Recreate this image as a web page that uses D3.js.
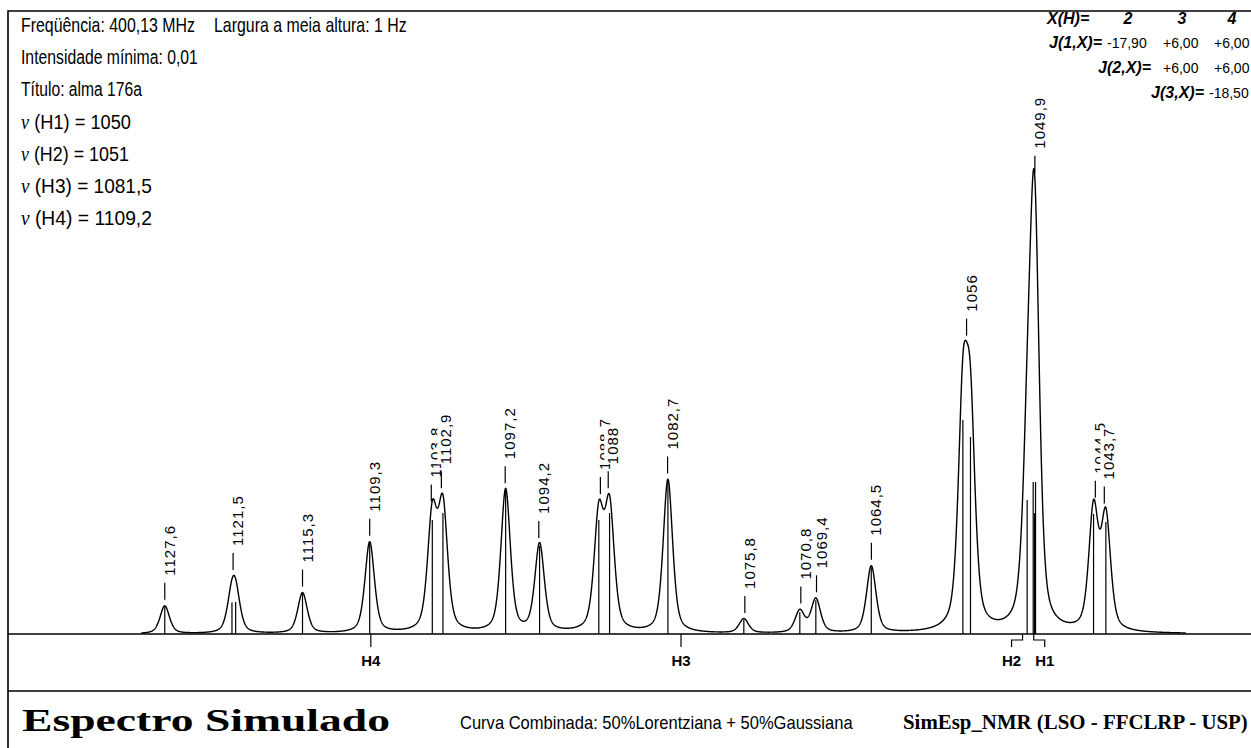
<!DOCTYPE html>
<html>
<head>
<meta charset="utf-8">
<script src="https://cdn.jsdelivr.net/npm/d3@7"></script>
<style>
  body { margin: 0; background: #fff; }
  svg { display: block; }
</style>
</head>
<body>
<svg id="chart" width="1251" height="748" font-family="Liberation Sans, Arial, sans-serif"></svg>
<script>
// ---- data ----
const infoLines = ["Freqüência: 400,13 MHz", "Intensidade mínima: 0,01", "Título: alma 176a"];
const infoExtra = "Largura a meia altura: 1 Hz";
const spinNames = ["H1", "H2", "H3", "H4"];
const spinShifts = [1050, 1051, 1081.5, 1109.2];
const spinShiftText = ["1050", "1051", "1081,5", "1109,2"];
const jCols = ["2", "3", "4"];
const jRowNames = ["J(1,X)=", "J(2,X)=", "J(3,X)="];
const jValues = [["-17,90", "+6,00", "+6,00"], ["+6,00", "+6,00"], ["-18,50"]];

// transitions (Hz) and their intensities
const stickFreq = [1127.60, 1121.60, 1121.27, 1115.30, 1109.30, 1103.71, 1102.76, 1097.16,
                   1094.13, 1088.84, 1087.88, 1082.67, 1075.89, 1070.89, 1069.46, 1064.51,
                   1056.33, 1055.65, 1050.59, 1050.05, 1049.93, 1049.84, 1044.66, 1043.56];
const stickInt  = [27.8, 31.5, 32, 40.5, 91, 114, 121, 143,
                   88, 114, 121, 153.5, 14.2, 21.8, 33.8, 66.8,
                   214, 197, 134, 152, 121, 152, 120, 112];

// labelled maxima
const peakFreq = [1127.6, 1121.5, 1115.3, 1109.3, 1103.8, 1102.9, 1097.2, 1094.2, 1088.7, 1088,
                  1082.7, 1075.8, 1070.8, 1069.4, 1064.5, 1056, 1049.9, 1044.5, 1043.7];

const curveRange = [1129.7, 1036.4];
const fwhm = 1;          // Hz
const lorentzFrac = 0.5;

const footerTitle = "Espectro Simulado";
const footerCurve = "Curva Combinada: 50%Lorentziana + 50%Gaussiana";
const footerCredit = "SimEsp_NMR (LSO - FFCLRP - USP)";

// ---- drawing ----
const svg = d3.select("#chart");
const W = 1251, H = 748;
const leftX = 8, topY = 11, base = 634, footY = 691;

const x = d3.scaleLinear().domain([1141.6, 1030.6]).range([leftX, W]);
const y = d3.scaleLinear().domain([0, 500]).range([base, base - 500]);

function shape(d) {
  const u = d / (fwhm / 2);
  const lor = 1 / (1 + u * u);
  const gau = Math.exp(-Math.LN2 * u * u);
  return lorentzFrac * lor + (1 - lorentzFrac) * gau;
}
function spectrum(f) {
  let s = 0;
  for (let i = 0; i < stickFreq.length; i++) s += stickInt[i] * shape(f - stickFreq[i]);
  return s;
}

// squeeze/stretch a text horizontally to a given width
function fit(t, tx, ty, width) {
  const w = t.node().getComputedTextLength();
  t.attr("transform", `translate(${tx},${ty}) scale(${width / w},1)`);
  return t;
}

// frame
svg.append("path")
  .attr("d", `M${leftX},${H} V${topY} H${W}`)
  .attr("fill", "none").attr("stroke", "#000").attr("stroke-width", 1.6);
svg.append("line")
  .attr("x1", leftX).attr("x2", W).attr("y1", footY).attr("y2", footY)
  .attr("stroke", "#000").attr("stroke-width", 1.6);

// header info
const lineY = i => 32 + i * 32.2;
const infoW = [174, 177, 121];
infoLines.forEach((t, i) => {
  fit(svg.append("text").attr("font-size", 21).text(t), 21, lineY(i), infoW[i]);
});
fit(svg.append("text").attr("font-size", 21).text(infoExtra), 214, lineY(0), 193);

const nuW = [110, 108, 131, 131];
spinNames.forEach((n, i) => {
  const t = svg.append("text").attr("font-size", 21);
  t.append("tspan").attr("font-family", "Liberation Serif, serif").attr("font-style", "italic").text("ν");
  t.append("tspan").text(` (${n}) = ${spinShiftText[i]}`);
  fit(t, 21, lineY(3 + i), nuW[i]);
});

// coupling table
const jRowY = [23.5, 47.5, 72.5, 98];
svg.append("text")
  .attr("x", 1047).attr("y", jRowY[0])
  .attr("font-size", 16).attr("font-weight", "bold").attr("font-style", "italic")
  .text("X(H)=");
const colX = [1128, 1182, 1232];
jCols.forEach((c, i) => {
  svg.append("text")
    .attr("x", colX[i]).attr("y", jRowY[0]).attr("text-anchor", "middle")
    .attr("font-size", 16).attr("font-weight", "bold").attr("font-style", "italic")
    .text(c);
});
const labelEnd = [1102, 1151, 1204];
const valStart = [[1107, 1163, 1214], [1163, 1214], [1209]];
jRowNames.forEach((n, r) => {
  svg.append("text")
    .attr("x", labelEnd[r]).attr("y", jRowY[r + 1]).attr("text-anchor", "end")
    .attr("font-size", 16).attr("font-weight", "bold").attr("font-style", "italic")
    .text(n);
  jValues[r].forEach((v, c) => {
    svg.append("text")
      .attr("x", valStart[r][c]).attr("y", jRowY[r + 1])
      .attr("font-size", 14)
      .text(v);
  });
});

// baseline axis
svg.append("line")
  .attr("x1", leftX).attr("x2", W).attr("y1", base).attr("y2", base)
  .attr("stroke", "#000").attr("stroke-width", 1.5);

// sticks
svg.append("g").selectAll("line")
  .data(stickFreq)
  .join("line")
  .attr("x1", d => x(d)).attr("x2", d => x(d))
  .attr("y1", y(0)).attr("y2", (d, i) => y(stickInt[i]))
  .attr("stroke", "#000").attr("stroke-width", 1.2);

// curve
const pts = d3.range(curveRange[0], curveRange[1], -0.02);
svg.append("path")
  .datum(pts)
  .attr("fill", "none").attr("stroke", "#000").attr("stroke-width", 1.4)
  .attr("stroke-linejoin", "round")
  .attr("d", d3.line().x(f => x(f)).y(f => y(spectrum(f))));

// peak labels
const labels = svg.append("g");
peakFreq.forEach(f => {
  const px = x(f), py = y(spectrum(f));
  labels.append("line")
    .attr("x1", px).attr("x2", px).attr("y1", py - 6).attr("y2", py - 23)
    .attr("stroke", "#000").attr("stroke-width", 1.2);
  const g = labels.append("g").attr("transform", `translate(${px + 10},${py - 30}) rotate(-90)`);
  const rect = g.append("rect").attr("fill", "#fff");
  const t = g.append("text")
    .attr("font-size", 15).attr("letter-spacing", 1)
    .text(String(f).replace(".", ","));
  const b = t.node().getBBox();
  rect.attr("x", b.x).attr("y", b.y).attr("width", b.width).attr("height", b.height);
});

// spin markers under the axis
const marks = spinShifts.map((s, i) => ({ name: spinNames[i], x0: x(s), x1: x(s) }))
  .sort((a, b) => a.x0 - b.x0);
for (let i = 1; i < marks.length; i++) {
  if (marks[i].x0 - marks[i - 1].x0 < 20) {
    marks[i - 1].x1 = marks[i - 1].x0 - 11;
    marks[i].x1 = marks[i].x0 + 11;
  }
}
marks.forEach(m => {
  svg.append("path")
    .attr("d", `M${m.x0},${base} V640 H${m.x1} V647`)
    .attr("fill", "none").attr("stroke", "#000").attr("stroke-width", 1.2);
  svg.append("text")
    .attr("x", m.x1).attr("y", 666).attr("text-anchor", "middle")
    .attr("font-size", 15).attr("font-weight", "bold")
    .text(m.name);
});

// footer
fit(svg.append("text")
  .attr("font-family", "Liberation Serif, serif").attr("font-weight", "bold")
  .attr("font-size", 31).text(footerTitle), 22, 731, 368);
fit(svg.append("text")
  .attr("font-size", 18).text(footerCurve), 460, 729, 393);
fit(svg.append("text")
  .attr("font-family", "Liberation Serif, serif").attr("font-weight", "bold")
  .attr("font-size", 21).text(footerCredit), 903, 729, 345);
</script>
</body>
</html>
